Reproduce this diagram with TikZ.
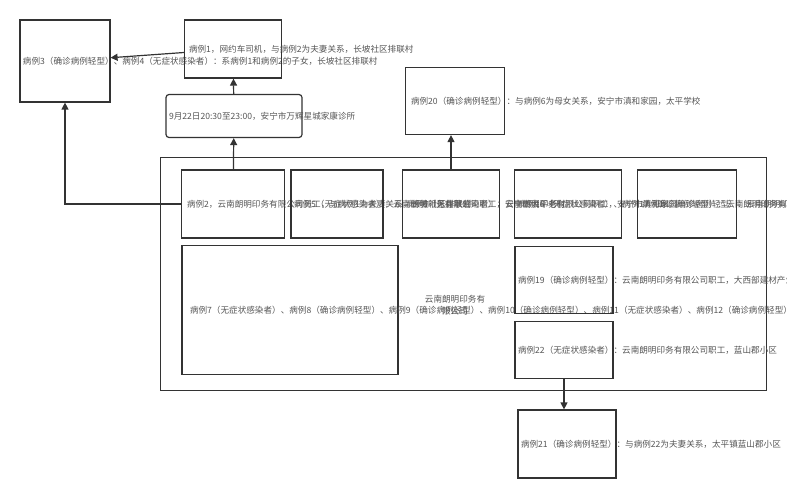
\documentclass[tikz,border=0pt]{standalone}
\usepackage{fontspec}
\newfontfamily\cjk{Noto Sans CJK SC}
\usetikzlibrary{arrows.meta,positioning}
\definecolor{txt}{HTML}{555555}
\definecolor{edge}{HTML}{333333}

\begin{document}
\begin{tikzpicture}[x=1pt,y=-1pt,
  font=\cjk\fontsize{8.6}{12.3}\selectfont,
  box/.style={draw=edge,line width=1.2pt,text=txt,align=center,inner sep=2pt},
  arr/.style={draw=edge,line width=1.2pt,-{Triangle[length=7pt,width=7pt]}}]
\useasboundingbox (0,0) rectangle (787,500);

% company frame
\draw[edge,line width=1pt] (160,158) rectangle (766,390);
\node (co) [text=txt,align=center] at (455,305) {云南朗明印务有\\限公司};

% top row
\node (c34) [box,minimum width=90pt,minimum height=82pt,text width=84pt] at (65,61)
  {病例3（确诊病例轻型）、病例4（无症状感染者）：系病例1和病例2的子女，长坡社区排联村};
\node (c1) [box,minimum width=97pt,minimum height=58pt,text width=88pt] at (233,49)
  {病例1，网约车司机，与病例2为夫妻关系，长坡社区排联村};
\node (clinic) [box,rounded corners=3pt,minimum width=136pt,minimum height=43pt,text width=130pt] at (234,116)
  {9月22日20:30至23:00，安宁市万辉星城家康诊所};
\node (c20) [box,minimum width=99pt,minimum height=67pt,text width=88pt] at (455,101)
  {病例20（确诊病例轻型）：与病例6为母女关系，安宁市滇和家园，太平学校};

% inside company
\node (c2) [box,minimum width=103pt,minimum height=68pt,text width=92pt] at (233,204)
  {病例2，云南朗明印务有限公司员工，与病例1为夫妻关系，长坡社区排联村};
\node (c5) [box,minimum width=92pt,minimum height=68pt,text width=86pt] at (337,204)
  {病例5（无症状感染者）：云南朗明印务有限公司职工，安宁市太平老村};
\node (c6) [box,minimum width=97pt,minimum height=68pt,text width=90pt] at (451,204)
  {病例6（无症状感染者）：云南朗明印务有限公司职工，安宁市滇和家园};
\node (c16) [box,minimum width=107pt,minimum height=68pt,text width=100pt] at (568,204)
  {病例16（无症状感染者）、病例17（确诊病例轻型）：云南朗明印务有限公司职工，安宁市太平新村};
\node (c18) [box,minimum width=99pt,minimum height=68pt,text width=90pt] at (687,204)
  {病例18（确诊病例轻型）：云南朗明印务有限公司职工，西山区长坡长欣花园};
\node (c7) [box,minimum width=216pt,minimum height=129pt,text width=200pt] at (290,310)
  {病例7（无症状感染者）、病例8（确诊病例轻型）、病例9（确诊病例轻型）、病例10（确诊病例轻型）、病例11（无症状感染者）、病例12（确诊病例轻型）、病例13（无症状感染者）、病例14（无症状感染者）、病例15（无症状感染者）：均为云南朗明印务有限公司职工，住长坡社区排联村};
\node (c19) [box,minimum width=98pt,minimum height=67pt,text width=92pt] at (564,280)
  {病例19（确诊病例轻型）：云南朗明印务有限公司职工，大西部建材产业城};
\node (c22) [box,minimum width=98pt,minimum height=57pt,text width=92pt] at (564,350)
  {病例22（无症状感染者）：云南朗明印务有限公司职工，蓝山郡小区};

% below
\node (c21) [box,minimum width=98pt,minimum height=68pt,text width=92pt] at (567,444)
  {病例21（确诊病例轻型）：与病例22为夫妻关系，太平镇蓝山郡小区};

\coordinate (bend) at (c2.west -| c34.south);
\draw[arr] (c2) -- (clinic);
\draw[arr] (clinic) -- (c1);
\draw[arr] (c1) -- (c34);
\draw[arr] (c2.west) -- (bend) -- (c34.south);
\draw[arr] (c6) -- (c6 |- c20.south);
\draw[arr] (c22) -- (c22 |- c21.north);
\end{tikzpicture}
\end{document}
